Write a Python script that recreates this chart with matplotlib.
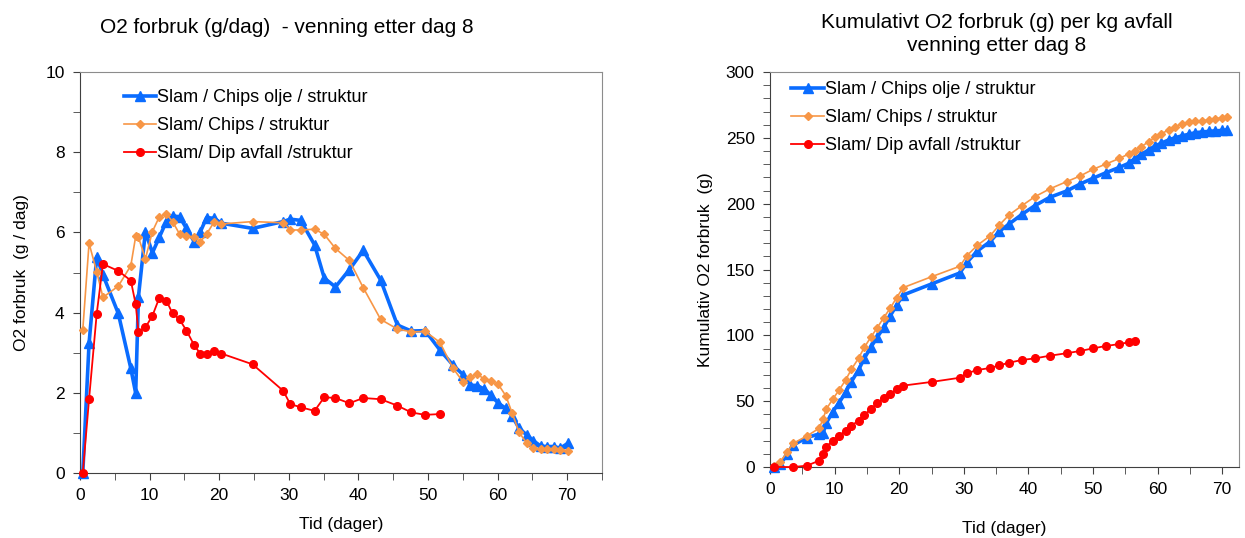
import matplotlib
matplotlib.use("Agg")
import matplotlib.pyplot as plt
from matplotlib.ticker import MultipleLocator

plt.rcParams['font.family'] = ['Liberation Sans', 'DejaVu Sans']

# dager for O2 forbruk (venstre figur)
days = [0.4, 1.3, 2.4, 3.3, 5.5, 7.3, 8.0, 8.4, 9.4, 10.4, 11.4, 12.4, 13.3, 14.3, 15.3,
        16.4, 17.3, 18.2, 19.3, 20.3, 24.8, 29.2, 30.2, 31.7, 33.7, 35.1, 36.7, 38.7, 40.7,
        43.2, 45.6, 47.6, 49.6, 51.7, 53.6, 55.1, 56.1, 57.1, 58.1, 59.0, 60.1, 61.2, 62.1,
        63.1, 64.2, 65.1, 66.2, 67.1, 68.1, 69.0, 70.1]
rate_olje = [0, 3.23, 5.39, 4.94, 3.98, 2.61, 1.99, 4.40, 6.02, 5.49, 5.88, 6.27, 6.41, 6.39,
             6.10, 5.77, 6.02, 6.37, 6.35, 6.23, 6.10, 6.27, 6.33, 6.30, 5.69, 4.86, 4.64, 5.07,
             5.55, 4.81, 3.69, 3.54, 3.55, 3.07, 2.69, 2.44, 2.19, 2.18, 2.09, 1.95, 1.74, 1.61,
             1.42, 1.11, 0.95, 0.81, 0.67, 0.66, 0.66, 0.62, 0.74]
rate_chips = [3.57, 5.73, 5.02, 4.38, 4.66, 5.17, 5.90, 5.88, 5.34, 6.02, 6.39, 6.46, 6.27, 5.96,
              5.90, 5.88, 5.77, 5.96, 6.27, 6.21, 6.27, 6.24, 6.06, 6.06, 6.08, 5.95, 5.60, 5.30,
              4.62, 3.83, 3.59, 3.52, 3.53, 3.26, 2.61, 2.26, 2.39, 2.46, 2.34, 2.29, 2.21, 1.92,
              1.49, 1.01, 0.74, 0.62, 0.60, 0.59, 0.59, 0.58, 0.55]
rate_dip = [0, 1.84, 3.97, 5.21, 5.04, 4.80, 4.21, 3.52, 3.63, 3.92, 4.37, 4.30, 3.98, 3.83,
            3.55, 3.19, 2.97, 2.98, 3.04, 2.98, 2.71, 2.05, 1.72, 1.64, 1.55, 1.89, 1.87, 1.74,
            1.87, 1.84, 1.68, 1.51, 1.45, 1.47]

# dager for kumulativt forbruk (hoyre figur)
days_cum = [0.6, 1.6, 2.7, 3.6, 5.7, 7.6, 8.2, 8.7, 9.7, 10.7, 11.7, 12.6, 13.7, 14.6, 15.6,
            16.6, 17.6, 18.6, 19.6, 20.6, 25.0, 29.4, 30.5, 32.1, 34.1, 35.5, 37.0, 39.0, 41.0,
            43.3, 45.9, 48.0, 50.0, 52.0, 54.1, 55.5, 56.5, 57.5, 58.6, 59.6, 60.5, 61.7, 62.7,
            63.7, 64.8, 65.8, 66.8, 67.9, 68.9, 69.9, 70.7]
cum_olje = [0, 2.3, 9.6, 16.7, 22.3, 25.1, 25.5, 33.2, 42, 48.8, 56.7, 64.8, 73.7, 82.5, 90.9,
            98.5, 106, 114.7, 123, 130.6, 139, 147.4, 155.5, 164.1, 171.3, 179, 184.5, 191.9,
            198.5, 204.8, 209.6, 214.9, 219.3, 223.5, 227.6, 230.6, 234.4, 237.5, 240.8, 243.8,
            245.8, 248.4, 250.1, 251.4, 252.7, 253.9, 254.4, 254.9, 255.3, 255.6, 256]
cum_chips = [1, 4, 11.6, 18, 23.5, 29.4, 36.2, 43.8, 51.4, 58.5, 66, 74.2, 82.5, 90.9, 98.5,
             105.8, 113.4, 120.5, 128.6, 136.2, 144.5, 152.5, 160.6, 168.4, 175.7, 183.8, 191.4,
             198.5, 205.3, 211.2, 216.7, 221, 226.1, 230.1, 234.4, 237.7, 240.2, 243.3, 247.1,
             250.4, 252.9, 256, 258.5, 260.5, 261.8, 262.8, 263, 263.5, 264.3, 265.3, 266]
days_cum_dip = [0.6] + days_cum[3:37]
cum_dip = [0, 0, 1, 4.8, 9.9, 15.4, 19.7, 23.8, 27.6, 31.4, 35.2, 39.5, 44, 48.4, 52.2, 55.4,
           59, 61.8, 64.6, 67.8, 71.2, 73.7, 75.2, 77.2, 79.2, 81.3, 82.5, 84.5, 86.4, 88.1,
           90.1, 91.9, 93.4, 94.7, 95.7]

labels = ["Slam / Chips olje / struktur", "Slam/ Chips / struktur", "Slam/ Dip avfall /struktur"]
BLUE = "#0a6cff"
ORANGE = "#f79646"
RED = "#ff0000"

fig = plt.figure(figsize=(12.45, 5.38), dpi=100)
W, H = 1245, 538
ax1 = fig.add_axes([80 / W, 1 - 473 / H, (602 - 80) / W, (473 - 72) / H])
ax2 = fig.add_axes([770 / W, 1 - 467 / H, (1239 - 770) / W, (467 - 72) / H])


def draw(ax, x1, y1, x2, y2, x3, y3):
    ax.plot(x1, y1, color=BLUE, lw=2.6, marker="^", ms=6.5, label=labels[0], clip_on=False, zorder=3)
    ax.plot(x2, y2, color=ORANGE, lw=1.2, marker="D", ms=4, label=labels[1], clip_on=False, zorder=4)
    ax.plot(x3, y3, color=RED, lw=1.3, marker="o", ms=5.5, label=labels[2], clip_on=False, zorder=5)
    for s in ["left", "bottom"]:
        ax.spines[s].set_color("#404040")
    for s in ["top", "right"]:
        ax.spines[s].set_color("#8c8c8c")
    ax.tick_params(which="both", direction="out", length=5, color="#404040", labelsize=12.5,
                   pad=6, top=False, right=False)
    ax.xaxis.set_major_locator(MultipleLocator(10))
    ax.xaxis.set_minor_locator(MultipleLocator(5))


draw(ax1, days, rate_olje, days, rate_chips, days[:len(rate_dip)], rate_dip)
ax1.set_xlim(0, 75)
ax1.set_ylim(0, 10)
ax1.yaxis.set_major_locator(MultipleLocator(2))
ax1.yaxis.set_minor_locator(MultipleLocator(1))
ax1.set_xlabel("Tid (dager)", fontsize=12.5, labelpad=10)
ax1.set_ylabel("O2 forbruk  (g / dag)", fontsize=12.5, labelpad=12)
ax1.legend(loc="upper left", bbox_to_anchor=(0.07, 0.975), frameon=False, fontsize=13,
           handlelength=1.8, handletextpad=0.05, labelspacing=0.6, borderaxespad=0)

draw(ax2, days_cum, cum_olje, days_cum, cum_chips, days_cum_dip, cum_dip)
ax2.set_xlim(0, 72.6)
ax2.set_ylim(0, 300)
ax2.yaxis.set_major_locator(MultipleLocator(50))
ax2.yaxis.set_minor_locator(MultipleLocator(10))
ax2.set_xlabel("Tid (dager)", fontsize=12.5, labelpad=17)
ax2.set_ylabel("Kumulativ O2 forbruk  (g)", fontsize=12.5, labelpad=9)
ax2.legend(loc="upper left", bbox_to_anchor=(0.03, 0.995), frameon=False, fontsize=13,
           handlelength=1.8, handletextpad=0.05, labelspacing=0.6, borderaxespad=0)

fig.text(287 / W, 1 - 28 / H, "O2 forbruk (g/dag)  - venning etter dag 8", fontsize=15,
         ha="center", va="center")
fig.text(997 / W, 1 - 34 / H, "Kumulativt O2 forbruk (g) per kg avfall\nvenning etter dag 8",
         fontsize=15, ha="center", va="center", linespacing=1.3)

fig.savefig("out.png", dpi=100)
